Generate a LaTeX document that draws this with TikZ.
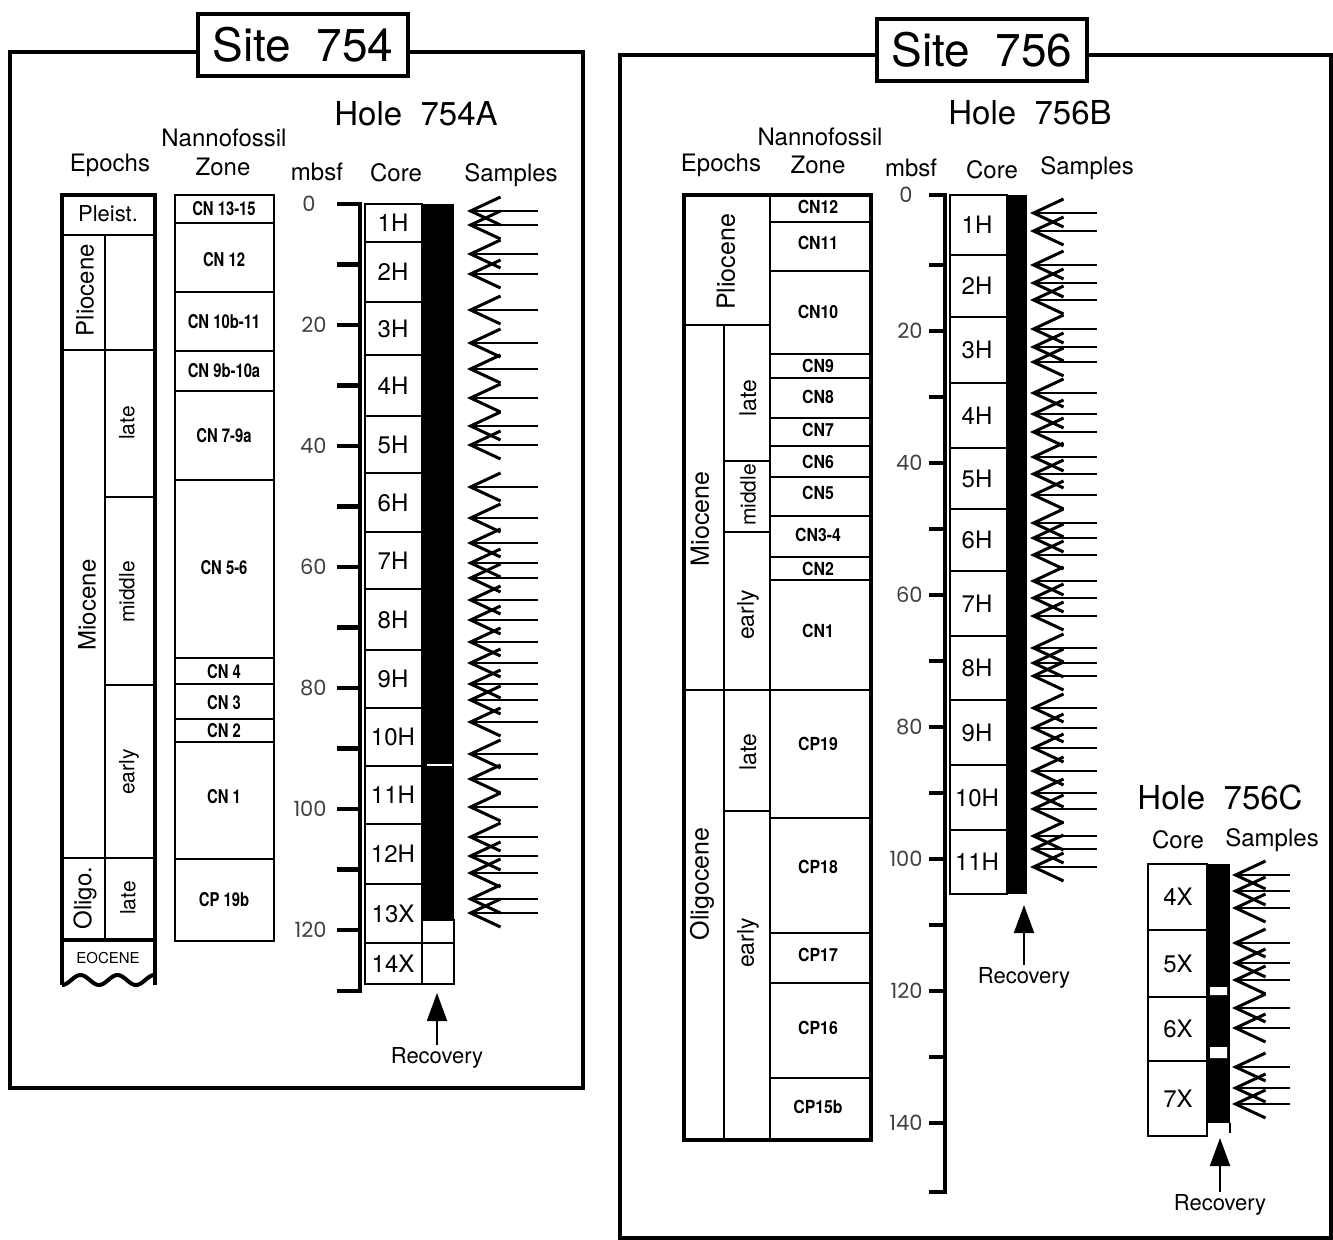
\documentclass[tikz,border=0pt]{standalone}
\usepackage{fontspec}
\setmainfont{TeX Gyre Heros}
\newfontfamily\numfont{Poppins}
\usepackage{graphicx}
\usetikzlibrary{arrows.meta}

\newcommand{\zonetext}[1]{\scalebox{0.78}[1]{#1}}
\newcommand{\zonetextb}[1]{\scalebox{0.88}[1]{#1}}

\begin{document}
\begin{tikzpicture}[x=0.5pt, y=-0.5pt,
    frame/.style={line width=2pt},
    title/.style={draw, line width=2pt, fill=white, minimum width=105pt, minimum height=31pt, inner sep=0pt, font=\fontsize{23}{23}\selectfont},
    hole/.style={font=\fontsize{16.5}{16.5}\selectfont},
    head/.style={font=\fontsize{12}{12}\selectfont},
    colbox/.style={line width=1.2pt},
    outer/.style={line width=2pt},
    zone/.style={font=\fontsize{9.5}{9.5}\selectfont\bfseries, inner sep=0pt},
    zoneb/.style={font=\fontsize{9}{9}\selectfont\bfseries, inner sep=0pt},
    epoch/.style={rotate=90, font=\fontsize{12}{12}\selectfont, inner sep=0pt},
    subepoch/.style={rotate=90, font=\fontsize{10.5}{10.5}\selectfont, inner sep=0pt},
    core/.style={font=\fontsize{12}{12}\selectfont, inner sep=0pt},
    depth/.style={font=\numfont\fontsize{10.5}{10.5}\selectfont, text=black!75, anchor=east, inner sep=0pt},
    scaleline/.style={line width=2.2pt},
    sample/.style={-{Straight Barb[length=15pt, width=14pt, line width=1.5pt]}, line width=1.1pt},
    recarrow/.style={-{Triangle[length=14pt, width=10pt]}, line width=1pt},
    rec/.style={font=\fontsize{11}{11}\selectfont, inner sep=1pt}
  ]
    \fill[white] (0,0) rectangle (1333,1240);
    \useasboundingbox (0,0) rectangle (1333,1240);

    % Site 754
    \node[title] (site754) at (303,45) {Site\ \ 754};
    \draw[frame] (site754.west |- 0,52) -- (10,52) -- (10,1088) -- (583,1088) -- (583,52) -- (site754.east |- 0,52);

    \node[hole] (hole754A) at (416,114) {Hole\ \ 754A};
    \node[head] (nanno754) at (224,138) {Nannofossil};
    \node[head] (zone754) at (223,167) {Zone};
    \node[head] (epochs754) at (110,165) {Epochs};
    \node[head] (mbsf754) at (317,172) {mbsf};
    \node[head] (core754) at (396,173) {Core};
    \node[head] (samples754) at (511,175) {Samples};

    % epochs column
    \draw[outer] (62,985) -- (62,195) -- (155,195) -- (155,985);
    \draw[colbox] (62,235) -- (155,235) (62,350) -- (155,350) (62,858) -- (155,858)
      (105,235) -- (105,940) (105,497) -- (155,497) (105,685) -- (155,685);
    \draw[outer] (62,940) -- (155,940);
    \draw[outer] plot[domain=62:155, samples=60] (\x, {980+5*cos((\x-62)*9.73)});
    \node[font=\fontsize{11}{11}\selectfont, inner sep=0pt] (pleist) at (108,214) {Pleist.};
    \node[epoch] (plio754) at (85,290) {Pliocene};
    \node[epoch] (mio754) at (87,605) {Miocene};
    \node[subepoch] (late754) at (127,423) {late};
    \node[subepoch] (mid754) at (127,592) {middle};
    \node[subepoch] (early754) at (129,772) {early};
    \node[epoch] (oligo754) at (85,898) {Oligo.};
    \node[subepoch] (olate754) at (128,898) {late};
    \node[font=\fontsize{7.5}{7.5}\selectfont, inner sep=0pt] (eocene) at (108,958) {EOCENE};

    % nannofossil zones
    \draw[colbox] (175,195) rectangle (274,941);
    \foreach \y in {223,292,351,391,480,658,684,719,742,859}
      \draw[colbox] (175,\y) -- (274,\y);
    \foreach \t/\y [count=\i] in {CN 13-15/209, CN 12/260, CN 10b-11/322, CN 9b-10a/371, CN 7-9a/436,
        CN 5-6/568, CN 4/672, CN 3/703, CN 2/731, CN 1/797, CP 19b/900}
      \node[zone] (z754-\i) at (224,\y) {\zonetext{\t}};

    % depth scale
    \draw[scaleline] (337,204) -- (360,204) -- (360,991) -- (337,991);
    \foreach \m in {10,20,...,120}
      \draw[scaleline] (337,{204+6.05*\m}) -- (360,{204+6.05*\m});
    \node[depth] (d754-0) at (316,204) {0};
    \foreach \m in {20,40,...,120}
      \node[depth] (d754-\m) at (327,{204+6.05*\m}) {\m};

    % cores and recovery
    \foreach \c/\t/\b in {1H/204/242, 2H/242/302, 3H/302/355, 4H/355/416, 5H/416/473, 6H/473/532,
        7H/532/589, 8H/589/650, 9H/650/708, 10H/708/766, 11H/766/824, 12H/824/884, 13X/884/943, 14X/943/984} {
      \draw[colbox] (365,\t) rectangle (422,\b);
      \node[core] (c754-\c) at (393,{(\t+\b)/2}) {\c};
    }
    \fill (422,204) rectangle (454,920);
    \draw[white, line width=1pt] (427,765) -- (452,765);
    \draw[colbox] (422,920) rectangle (454,984) (422,943) -- (454,943);
    \coordinate (bar754) at (437,993);
    \node[rec] (rec754) at (437,1058) {Recovery};
    \draw[recarrow] (rec754) -- (bar754);

    % samples
    \foreach \y in {211,225,254,274,310,343,369,398,426,445,487,518,543,563,578,600,620,642,663,684,
        700,722,754,779,807,837,856,873,899,913}
      \draw[sample] (538,\y) -- (467,\y);

    % Site 756
    \node[title] (site756) at (982,50) {Site\ \ 756};
    \draw[frame] (site756.west |- 0,55) -- (620,55) -- (620,1238) -- (1331,1238) -- (1331,55) -- (site756.east |- 0,55);

    \node[hole] (hole756B) at (1030,113) {Hole\ \ 756B};
    \node[head] (nanno756) at (820,137) {Nannofossil};
    \node[head] (epochs756) at (721,165) {Epochs};
    \node[head] (zone756) at (818,165) {Zone};
    \node[head] (mbsf756) at (911,168) {mbsf};
    \node[head] (core756) at (992,170) {Core};
    \node[head] (samples756) at (1087,168) {Samples};

    % epochs and zones
    \draw[outer] (684,195) rectangle (871,1140);
    \draw[colbox] (770,195) -- (770,1140) (724,325) -- (724,1140) (684,325) -- (770,325) (684,690) -- (871,690)
      (724,461) -- (770,461) (724,532) -- (770,532) (724,811) -- (770,811);
    \foreach \y in {222,271,354,378,418,446,477,516,557,580,818,933,983,1078}
      \draw[colbox] (770,\y) -- (871,\y);
    \node[epoch, font=\fontsize{12.5}{12.5}\selectfont] (plio756) at (726,262) {Pliocene};
    \node[epoch, font=\fontsize{12.5}{12.5}\selectfont] (mio756) at (700,519) {Miocene};
    \node[epoch, font=\fontsize{12.5}{12.5}\selectfont] (oligo756) at (702,884) {Oligocene};
    \node[subepoch, font=\fontsize{11.5}{11.5}\selectfont] (late756) at (748,398) {late};
    \node[subepoch] (mid756) at (748,495) {middle};
    \node[subepoch, font=\fontsize{11.5}{11.5}\selectfont] (early756) at (748,615) {early};
    \node[subepoch, font=\fontsize{11.5}{11.5}\selectfont] (olate756) at (748,752) {late};
    \node[subepoch, font=\fontsize{11.5}{11.5}\selectfont] (oearly756) at (748,943) {early};
    \foreach \t/\y [count=\i] in {CN12/207, CN11/243, CN10/312, CN9/366, CN8/397, CN7/430, CN6/462,
        CN5/493, CN3-4/535, CN2/569, CN1/631, CP19/744, CP18/867, CP17/955, CP16/1028, CP15b/1107}
      \node[zoneb] (z756-\i) at (818,\y) {\zonetextb{\t}};

    % depth scale
    \draw[scaleline] (929,195) -- (945,195) -- (945,1192) -- (929,1192);
    \foreach \m in {10,20,...,140}
      \draw[scaleline] (929,{199+6.6*\m}) -- (945,{199+6.6*\m});
    \node[depth] (d756-0) at (913,195) {0};
    \foreach \m in {20,40,...,140}
      \node[depth] (d756-\m) at (923,{199+6.6*\m}) {\m};

    % cores and recovery
    \foreach \c/\t/\b in {1H/195/255, 2H/255/317, 3H/317/383, 4H/383/448, 5H/448/509, 6H/509/571,
        7H/571/636, 8H/636/700, 9H/700/765, 10H/765/830, 11H/830/894} {
      \draw[colbox] (950,\t) rectangle (1007,\b);
      \node[core] (c756B-\c) at (977,{(\t+\b)/2}) {\c};
    }
    \fill (1007,195) rectangle (1027,894);
    \coordinate (bar756B) at (1024,905);
    \node[rec] (rec756B) at (1024,978) {Recovery};
    \draw[recarrow] (rec756B) -- (bar756B);

    \foreach \y in {213,231,265,283,300,329,347,362,393,414,432,457,474,495,523,538,555,581,598,616,
        648,663,676,708,728,748,771,793,809,836,849,867}
      \draw[sample] (1097,\y) -- (1030,\y);

    % Hole 756C
    \node[hole] (hole756C) at (1220,797) {Hole\ \ 756C};
    \node[head] (core756C) at (1178,840) {Core};
    \node[head] (samples756C) at (1272,840) {Samples};
    \foreach \c/\t/\b in {4X/864/930, 5X/930/997, 6X/997/1061, 7X/1061/1136} {
      \draw[colbox] (1148,\t) rectangle (1207,\b);
      \node[core] (c756C-\c) at (1178,{(\t+\b)/2}) {\c};
    }
    \fill (1207,864) rectangle (1230,1123);
    \fill[white] (1210,987) rectangle (1227,995) (1210,1047) rectangle (1227,1058);
    \draw[colbox] (1207,1123) -- (1207,1136) (1230,1123) -- (1230,1133);
    \coordinate (bar756C) at (1220,1138);
    \node[rec] (rec756C) at (1220,1205) {Recovery};
    \draw[recarrow] (rec756C) -- (bar756C);

    \foreach \y in {875,891,908,943,963,980,1008,1028,1067,1088,1104}
      \draw[sample] (1290,\y) -- (1232,\y);
  \end{tikzpicture}
\end{document}
